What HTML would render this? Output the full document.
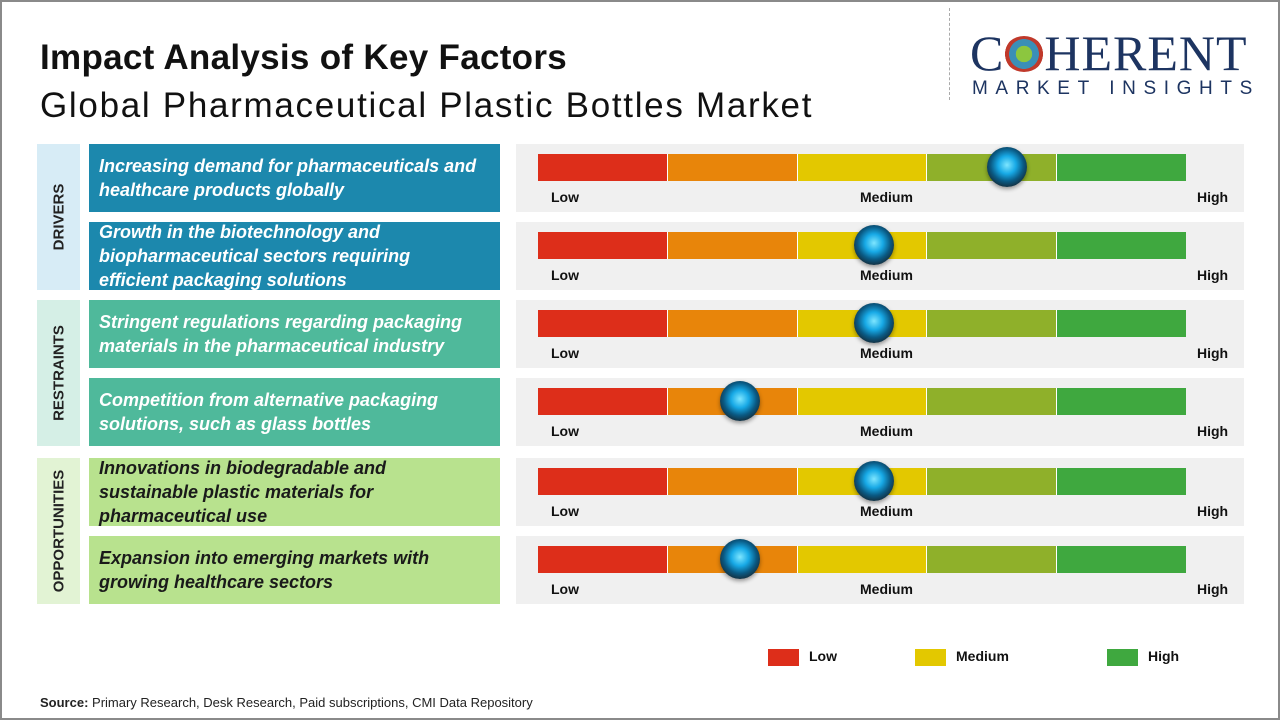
<!DOCTYPE html>
<html><head><meta charset="utf-8"><style>
*{margin:0;padding:0;box-sizing:border-box}
body{width:1280px;height:720px;background:#fff;font-family:"Liberation Sans",sans-serif;position:relative;overflow:hidden}
.frame{position:absolute;left:0;top:0;width:1280px;height:720px;border:2px solid #8a8a8a}
.t1{position:absolute;left:40px;top:38px;font-size:35px;font-weight:bold;color:#111;letter-spacing:0.3px}
.t2{position:absolute;left:40px;top:86px;font-size:35px;color:#111;letter-spacing:1.7px}
.cat{position:absolute;left:37px;width:43px}
.cat span{position:absolute;left:50%;top:50%;transform:translate(-50%,-50%) rotate(-90deg);font-size:15px;font-weight:bold;color:#222;white-space:nowrap}
.lab{position:absolute;left:89px;width:411px;height:68px;font-size:18px;font-weight:bold;font-style:italic;line-height:24px;padding:8px 10px;display:flex;align-items:center;white-space:nowrap}
.lab.d{background:#1c88ad;color:#fff}
.lab.r{background:#4fb99b;color:#fff}
.lab.o{background:#b8e28e;color:#1a1a1a}
.panel{position:absolute;left:516px;width:728px;height:68px;background:#f0f0f0}
.bar{position:absolute;left:22px;top:10px;height:27px;width:648px;display:flex}
.bar div{flex:1;border-right:1px solid #fff}
.bar div:last-child{border-right:none}
.lbl{position:absolute;top:45px;font-size:14px;font-weight:bold;color:#111}
.knob{position:absolute;top:3px;width:40px;height:40px;border-radius:50%;background:radial-gradient(circle at 50% 45%,#7ee6ff 0,#17a9e6 30%,#0a5a84 55%,#143040 75%,#1c2a33 100%);box-shadow:0 2px 4px rgba(0,0,0,.4)}
.leg{position:absolute;top:648px;font-size:14px;font-weight:bold;color:#111}
.leg i{display:inline-block;width:31px;height:17px;vertical-align:middle;margin-right:10px}
</style></head><body>
<div class="frame"></div>
<div class="t1">Impact Analysis of Key Factors</div>
<div class="t2">Global Pharmaceutical Plastic Bottles Market</div>
<div style="position:absolute;left:949px;top:8px;height:92px;border-left:1px dashed #aaa"></div>
<div style="position:absolute;left:970px;top:28px;font-family:'Liberation Serif',serif;font-size:50px;color:#1d3461;letter-spacing:1px;line-height:50px">C<span style="display:inline-block;width:40px;height:36px;border-radius:50%;background:radial-gradient(circle,#8cc63f 0 30%,#3a8fb7 31% 55%,#c0392b 56% 70%,transparent 71%);vertical-align:-2px"></span>HERENT</div>
<div style="position:absolute;left:972px;top:78px;font-size:19px;color:#1d3461;letter-spacing:7.6px">MARKET INSIGHTS</div>

<div class="cat" style="top:144px;height:146px;background:#d7ecf6"><span>DRIVERS</span></div>
<div class="cat" style="top:300px;height:146px;background:#d5efe6"><span>RESTRAINTS</span></div>
<div class="cat" style="top:458px;height:146px;background:#e2f3d4"><span>OPPORTUNITIES</span></div>

<div class="lab d" style="top:144px">Increasing demand for pharmaceuticals and<br>healthcare products globally</div>
<div class="lab d" style="top:222px">Growth in the biotechnology and<br>biopharmaceutical sectors requiring<br>efficient packaging solutions</div>
<div class="lab r" style="top:300px">Stringent regulations regarding packaging<br>materials in the pharmaceutical industry</div>
<div class="lab r" style="top:378px">Competition from alternative packaging<br>solutions, such as glass bottles</div>
<div class="lab o" style="top:458px">Innovations in biodegradable and<br>sustainable plastic materials for<br>pharmaceutical use</div>
<div class="lab o" style="top:536px">Expansion into emerging markets with<br>growing healthcare sectors</div>

<div class="panel" style="top:144px"><div class="bar"><div style="background:#dd2e1a"></div><div style="background:#e8850a"></div><div style="background:#e3c800"></div><div style="background:#8fb02a"></div><div style="background:#3fa83f"></div></div><span class="lbl" style="left:35px">Low</span><span class="lbl" style="left:344px">Medium</span><span class="lbl" style="left:681px">High</span><div class="knob" style="left:471px"></div></div>
<div class="panel" style="top:222px"><div class="bar"><div style="background:#dd2e1a"></div><div style="background:#e8850a"></div><div style="background:#e3c800"></div><div style="background:#8fb02a"></div><div style="background:#3fa83f"></div></div><span class="lbl" style="left:35px">Low</span><span class="lbl" style="left:344px">Medium</span><span class="lbl" style="left:681px">High</span><div class="knob" style="left:338px"></div></div>
<div class="panel" style="top:300px"><div class="bar"><div style="background:#dd2e1a"></div><div style="background:#e8850a"></div><div style="background:#e3c800"></div><div style="background:#8fb02a"></div><div style="background:#3fa83f"></div></div><span class="lbl" style="left:35px">Low</span><span class="lbl" style="left:344px">Medium</span><span class="lbl" style="left:681px">High</span><div class="knob" style="left:338px"></div></div>
<div class="panel" style="top:378px"><div class="bar"><div style="background:#dd2e1a"></div><div style="background:#e8850a"></div><div style="background:#e3c800"></div><div style="background:#8fb02a"></div><div style="background:#3fa83f"></div></div><span class="lbl" style="left:35px">Low</span><span class="lbl" style="left:344px">Medium</span><span class="lbl" style="left:681px">High</span><div class="knob" style="left:204px"></div></div>
<div class="panel" style="top:458px"><div class="bar"><div style="background:#dd2e1a"></div><div style="background:#e8850a"></div><div style="background:#e3c800"></div><div style="background:#8fb02a"></div><div style="background:#3fa83f"></div></div><span class="lbl" style="left:35px">Low</span><span class="lbl" style="left:344px">Medium</span><span class="lbl" style="left:681px">High</span><div class="knob" style="left:338px"></div></div>
<div class="panel" style="top:536px"><div class="bar"><div style="background:#dd2e1a"></div><div style="background:#e8850a"></div><div style="background:#e3c800"></div><div style="background:#8fb02a"></div><div style="background:#3fa83f"></div></div><span class="lbl" style="left:35px">Low</span><span class="lbl" style="left:344px">Medium</span><span class="lbl" style="left:681px">High</span><div class="knob" style="left:204px"></div></div>

<div class="leg" style="left:768px"><i style="background:#dd2e1a"></i>Low</div>
<div class="leg" style="left:915px"><i style="background:#e3c800"></i>Medium</div>
<div class="leg" style="left:1107px"><i style="background:#3fa83f"></i>High</div>
<div style="position:absolute;left:40px;top:695px;font-size:13px;color:#222"><b>Source:</b> Primary Research, Desk Research, Paid subscriptions, CMI Data Repository</div>
</body></html>
